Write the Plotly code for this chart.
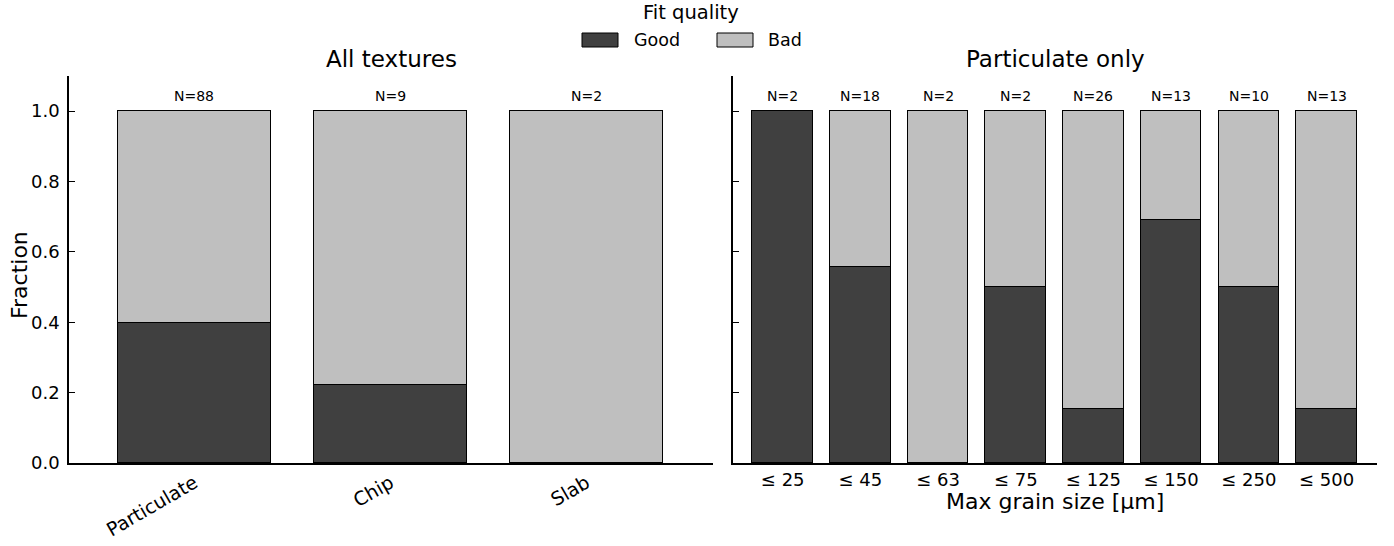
import plotly.graph_objects as go

# Fit quality by sample texture
textures = ["Particulate", "Chip", "Slab"]
texture_n = [88, 9, 2]
texture_good = [0.398, 0.222, 0.0]
texture_bad = [0.602, 0.778, 1.0]

# Fit quality by maximum grain size (particulate samples only)
grain_labels = ["≤ 25", "≤ 45", "≤ 63", "≤ 75", "≤ 125", "≤ 150", "≤ 250", "≤ 500"]
grain_n = [2, 18, 2, 2, 26, 13, 10, 13]
grain_good = [1.0, 0.556, 0.0, 0.5, 0.154, 0.692, 0.5, 0.154]
grain_bad = [0.0, 0.444, 1.0, 0.5, 0.846, 0.308, 0.5, 0.846]

y_ticks = [0.0, 0.2, 0.4, 0.6, 0.8, 1.0]

GOOD_COLOR = "#404040"
BAD_COLOR = "#bfbfbf"
FONT = "DejaVu Sans"
W, H = 1394, 546
BAR_W = 0.78


def px_x(v):
    return v / W


def px_y(v):
    return 1 - v / H


fig = go.Figure()

for xs, good, bad, xa, ya in [
    (textures, texture_good, texture_bad, "x", "y"),
    (grain_labels, grain_good, grain_bad, "x2", "y2"),
]:
    fig.add_trace(go.Bar(x=xs, y=good, name="Good", marker=dict(color=GOOD_COLOR, line=dict(color="black", width=1)),
                         width=BAR_W, xaxis=xa, yaxis=ya, showlegend=False))
    fig.add_trace(go.Bar(x=xs, y=bad, name="Bad", marker=dict(color=BAD_COLOR, line=dict(color="black", width=1)),
                         width=BAR_W, xaxis=xa, yaxis=ya, showlegend=False))

annotations = []
# Sample counts above each bar
for xs, ns, good, bad, xr, yr in [
    (textures, texture_n, texture_good, texture_bad, "x", "y"),
    (grain_labels, grain_n, grain_good, grain_bad, "x2", "y2"),
]:
    for c, n, g, b in zip(xs, ns, good, bad):
        annotations.append(dict(x=c, y=g + b, xref=xr, yref=yr, text=f"N={n}", showarrow=False,
                                yanchor="bottom", yshift=5, font=dict(family=FONT, size=14, color="black")))

# Panel titles
annotations.append(dict(x=px_x(391), y=px_y(59), xref="paper", yref="paper", text="All textures", showarrow=False,
                        xanchor="center", yanchor="middle", font=dict(family=FONT, size=23, color="black")))
annotations.append(dict(x=px_x(1055), y=px_y(59), xref="paper", yref="paper", text="Particulate only", showarrow=False,
                        xanchor="center", yanchor="middle", font=dict(family=FONT, size=23, color="black")))
# Axis titles
annotations.append(dict(x=px_x(19), y=px_y(275), xref="paper", yref="paper", text="Fraction", showarrow=False,
                        textangle=-90, xanchor="center", yanchor="middle", font=dict(family=FONT, size=22, color="black")))
annotations.append(dict(x=px_x(1055), y=px_y(501), xref="paper", yref="paper", text="Max grain size [µm]", showarrow=False,
                        xanchor="center", yanchor="middle", font=dict(family=FONT, size=22, color="black")))

# Legend drawn as swatches + labels
annotations.append(dict(x=px_x(691), y=px_y(12), xref="paper", yref="paper", text="Fit quality", showarrow=False,
                        xanchor="center", yanchor="middle", font=dict(family=FONT, size=19.5, color="black")))
shapes = []
for label, color, x0, tx in [("Good", GOOD_COLOR, 582, 632), ("Bad", BAD_COLOR, 717, 766)]:
    shapes.append(dict(type="rect", xref="paper", yref="paper", x0=px_x(x0), x1=px_x(x0 + 36),
                       y0=px_y(47), y1=px_y(33), fillcolor=color, line=dict(color="black", width=1)))
    annotations.append(dict(x=px_x(tx), y=px_y(40), xref="paper", yref="paper", text=label, showarrow=False,
                            xanchor="left", yanchor="middle", font=dict(family=FONT, size=17.5, color="black")))

y_dom = [px_y(463), px_y(463 - 1.1 * 352)]

axis_common = dict(showgrid=False, zeroline=False, showline=True, linecolor="black", linewidth=1.5)

fig.update_layout(
    width=W, height=H,
    margin=dict(l=0, r=0, t=0, b=0, pad=0),
    paper_bgcolor="white", plot_bgcolor="white",
    barmode="stack", bargap=0,
    showlegend=False,
    font=dict(family=FONT, color="black"),
    annotations=annotations,
    shapes=shapes,
    xaxis=dict(domain=[px_x(69), px_x(713)], range=[-0.64, 2.645], type="category",
               ticks="", tickangle=-30, tickfont=dict(family=FONT, size=19, color="black"),
               anchor="y", automargin=False, **axis_common),
    xaxis2=dict(domain=[px_x(733), px_x(1377)], range=[-0.64, 7.65], type="category",
                ticks="", tickfont=dict(family=FONT, size=18, color="black"),
                anchor="y2", automargin=False, **axis_common),
    yaxis=dict(domain=y_dom, range=[0, 1.1], tickvals=y_ticks, ticktext=[f"{v:.1f}" for v in y_ticks],
               ticks="inside", ticklen=6, tickwidth=1.3, tickcolor="black", ticklabelstandoff=4,
               tickfont=dict(family=FONT, size=18, color="black"), anchor="x", automargin=False, **axis_common),
    yaxis2=dict(domain=y_dom, range=[0, 1.1], tickvals=y_ticks, showticklabels=False,
                ticks="inside", ticklen=6, tickwidth=1.3, tickcolor="black",
                anchor="x2", automargin=False, **axis_common),
)

fig.write_html("out.html")
